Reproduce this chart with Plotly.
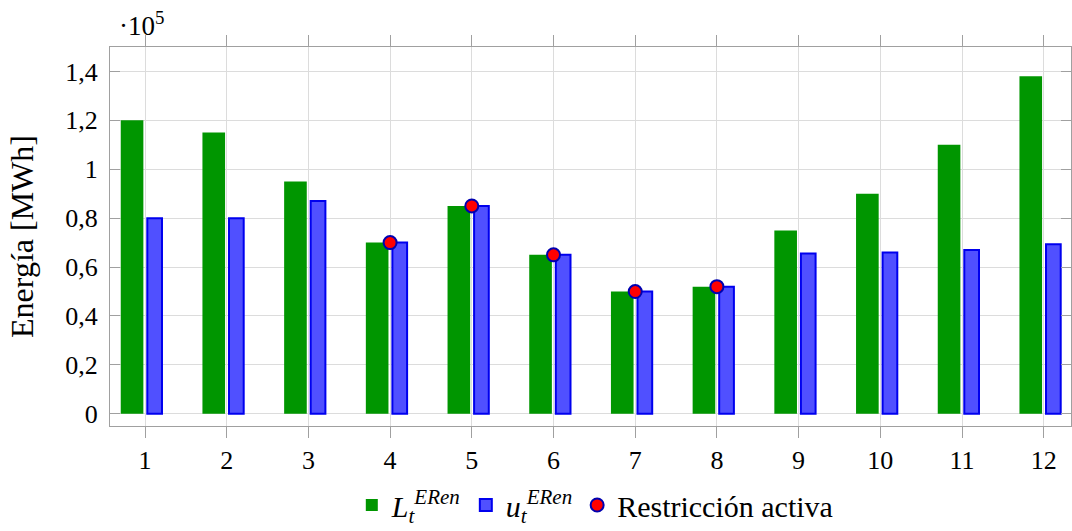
import plotly.graph_objects as go

months = list(range(1, 13))
L_vals = [120000, 115000, 95000, 70000, 85000, 65000, 50000, 52000, 75000, 90000, 110000, 138000]
u_vals = [80000, 80000, 87000, 70000, 85000, 65000, 50000, 52000, 65500, 66000, 67000, 69300]
active_x = [4, 5, 6, 7, 8]
active_y = [70000, 85000, 65000, 50000, 52000]
ytick_vals = [0, 20000, 40000, 60000, 80000, 100000, 120000, 140000]
ytick_text = ["0", "0,2", "0,4", "0,6", "0,8", "1", "1,2", "1,4"]

FONT = "Liberation Serif"

fig = go.Figure()
fig.add_trace(go.Bar(
    x=months, y=L_vals, width=0.277, offset=-0.297,
    marker=dict(color="#009600", line=dict(width=0)),
    name="<i>L</i><sub><i>t</i></sub><sup><i>ERen</i></sup>",
))
fig.add_trace(go.Bar(
    x=months, y=u_vals, width=0.18, offset=0.028,
    marker=dict(color="#5050ff", line=dict(color="#0000ee", width=2)),
    name="<i>u</i><sub><i>t</i></sub><sup><i>ERen</i></sup>",
))
fig.add_trace(go.Scatter(
    x=active_x, y=active_y, mode="markers",
    marker=dict(color="#ff0000", size=13, line=dict(color="#0000b0", width=2)),
    name="Restricción activa",
))

fig.update_layout(
    width=1072, height=531,
    margin=dict(l=110, r=1, t=47, b=105, autoexpand=False),
    plot_bgcolor="white", paper_bgcolor="white",
    barmode="overlay",
    font=dict(family=FONT, size=26, color="black"),
    legend=dict(orientation="h", x=0.505, xanchor="center",
                yref="container", y=-0.01, yanchor="bottom",
                font=dict(size=30), itemwidth=30, tracegroupgap=0,
                bgcolor="rgba(0,0,0,0)"),
    xaxis=dict(
        range=[0.5716, 12.334], tickvals=months, ticktext=[str(m) for m in months],
        showgrid=True, gridcolor="#dcdcdc", gridwidth=1,
        showline=True, linecolor="#a0a0a0", linewidth=1, mirror="ticks",
        ticks="outside", ticklen=11, tickcolor="#a0a0a0", zeroline=False,
        tickfont=dict(size=26), automargin=False,
    ),
    yaxis=dict(
        range=[-5000, 150000], tickvals=ytick_vals, ticktext=ytick_text,
        showgrid=True, gridcolor="#dcdcdc", gridwidth=1,
        showline=True, linecolor="#a0a0a0", linewidth=1, mirror="ticks",
        ticks="inside", ticklen=10, tickcolor="#a0a0a0", zeroline=False,
        ticklabelstandoff=6,
        title=dict(text="Energía [MWh]", font=dict(size=32), standoff=22),
        tickfont=dict(size=26), automargin=False,
    ),
    annotations=[dict(
        text="·10<sup>5</sup>", xref="paper", yref="paper", x=0.007, y=1.0,
        xanchor="left", yanchor="bottom", showarrow=False, yshift=4,
        font=dict(size=27),
    )],
)

fig.write_html("out.html")
